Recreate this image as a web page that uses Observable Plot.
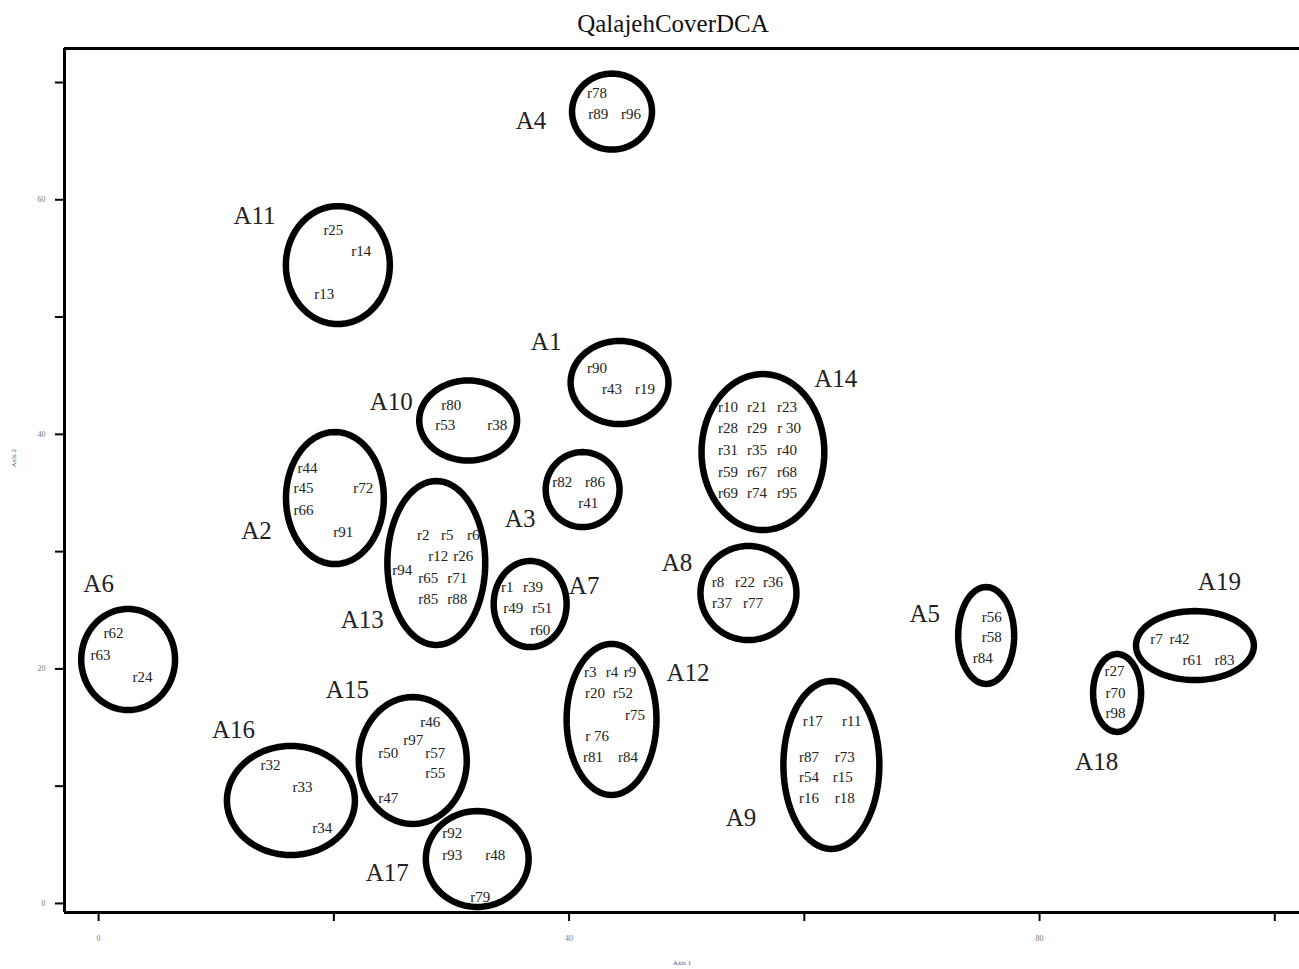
<!DOCTYPE html>
<html>
<head>
<meta charset="utf-8">
<script src="https://cdn.jsdelivr.net/npm/d3@7"></script>
<script src="https://cdn.jsdelivr.net/npm/@observablehq/plot@0.6"></script>
<style>
  html, body { margin: 0; padding: 0; background: #fff; }
  #title { position: relative; height: 46px; width: 1299px; overflow: hidden; }
  #title span { position: absolute; left: 0; width: 1346px; text-align: center; top: 10px;
    font-family: "Liberation Serif", "DejaVu Serif", serif; font-size: 25px; color: #111; }
  #chart svg { display: block; }
</style>
</head>
<body>
<div id="title"><span>QalajehCoverDCA</span></div>
<div id="chart"></div>
<script>
// Sample (relevé) labels and their DCA scores
const sampleNames = [
  "r78","r89","r96",
  "r25","r14","r13",
  "r90","r43","r19",
  "r80","r53","r38",
  "r10","r21","r23","r28","r29","r 30","r31","r35","r40","r59","r67","r68","r69","r74","r95",
  "r44","r45","r66","r72","r91",
  "r2","r5","r6","r12","r26","r94","r65","r71","r85","r88",
  "r82","r86","r41",
  "r1","r39","r49","r51","r60",
  "r8","r22","r36","r37","r77",
  "r3","r4","r9","r20","r52","r75","r 76","r81","r84",
  "r62","r63","r24",
  "r46","r97","r50","r57","r55","r47",
  "r32","r33","r34",
  "r92","r93","r48","r79",
  "r17","r11","r87","r73","r54","r15","r16","r18",
  "r56","r58","r84",
  "r27","r70","r98",
  "r7","r42","r61","r83"
];
const sampleX = [
  42.38, 42.47, 45.27,
  19.96, 22.34, 19.19,
  42.38, 43.65, 46.46,
  29.98, 29.47, 33.89,
  53.51, 55.97, 58.52, 53.51, 55.97, 58.70, 53.51, 55.97, 58.52, 53.51, 55.97, 58.52, 53.51, 55.97, 58.52,
  17.75, 17.41, 17.41, 22.51, 20.81,
  27.60, 29.64, 31.85, 28.88, 31.00, 25.82, 28.03, 30.49, 28.03, 30.49,
  39.41, 42.21, 41.62,
  34.74, 36.94, 35.25, 37.71, 37.54,
  52.66, 54.95, 57.33, 53.00, 55.63,
  41.79, 43.65, 45.18, 42.21, 44.59, 45.61, 42.38, 42.04, 45.01,
  1.27, 0.17, 3.74,
  28.20, 26.75, 24.63, 28.62, 28.62, 24.63,
  14.61, 17.33, 19.02,
  30.07, 30.07, 33.72, 32.44,
  60.72, 64.04, 60.39, 63.44, 60.39, 63.27, 60.39, 63.44,
  75.93, 75.93, 75.16,
  86.37, 86.46, 86.46,
  89.94, 91.89, 93.00, 95.72
];
const sampleY = [
  69.05, 67.26, 67.26,
  57.37, 55.58, 51.92,
  45.61, 43.82, 43.82,
  42.45, 40.75, 40.75,
  42.28, 42.28, 42.28, 40.49, 40.49, 40.49, 38.62, 38.62, 38.62, 36.74, 36.74, 36.74, 34.95, 34.95, 34.95,
  37.08, 35.38, 33.50, 35.38, 31.63,
  31.37, 31.37, 31.37, 29.58, 29.58, 28.39, 27.71, 27.71, 25.92, 25.92,
  35.89, 35.89, 34.10,
  26.94, 26.94, 25.15, 25.15, 23.27,
  27.37, 27.37, 27.37, 25.58, 25.58,
  19.69, 19.69, 19.69, 17.90, 17.90, 16.03, 14.24, 12.45, 12.45,
  23.02, 21.14, 19.27,
  15.43, 13.90, 12.79, 12.79, 11.08, 8.95,
  11.76, 9.89, 6.39,
  5.97, 4.09, 4.09, 0.51,
  15.52, 15.52, 12.45, 12.45, 10.74, 10.74, 8.95, 8.95,
  24.38, 22.68, 20.89,
  19.78, 17.90, 16.20,
  22.51, 22.51, 20.72, 20.72
];

// Groups (ellipses): centre and semi-axes in axis units, and label position
const groupNames = ["A4","A11","A1","A10","A14","A2","A13","A3","A7","A8","A12","A6","A15","A16","A17","A9","A5","A18","A19"];
const groupX  = [43.65, 20.34, 44.29, 31.42, 56.48, 20.09, 28.71, 41.15, 36.69, 55.25, 43.61, 2.51, 26.71, 16.35, 32.19, 62.30, 75.46, 86.59, 93.21];
const groupY  = [67.52, 54.43, 44.42, 41.18, 38.49, 34.57, 29.03, 35.29, 25.53, 26.47, 15.69, 20.80, 12.19, 8.78, 3.79, 11.81, 22.85, 17.95, 21.99];
const groupRx = [3.40, 4.42, 4.16, 4.16, 5.22, 4.16, 4.16, 3.14, 3.10, 4.08, 3.82, 3.99, 4.59, 5.44, 4.37, 4.08, 2.38, 2.04, 5.01];
const groupRy = [3.24, 5.03, 3.54, 3.41, 6.65, 5.63, 6.99, 3.20, 3.67, 4.01, 6.44, 4.31, 5.41, 4.65, 4.09, 7.16, 4.13, 3.32, 2.94];
const groupLabelX = [36.77, 13.25, 38.05, 24.88, 62.68, 13.42, 22.42, 35.84, 41.28, 49.17, 50.11, 0.00, 21.15, 11.47, 24.54, 54.61, 70.24, 84.85, 95.29];
const groupLabelY = [66.75, 58.65, 47.91, 42.80, 44.76, 31.80, 24.13, 32.74, 27.11, 28.99, 19.61, 27.28, 18.16, 14.83, 2.56, 7.25, 24.72, 12.02, 27.37];

// Axes
const xTicks = [0, 20, 40, 60, 80, 100];
const xTickLabels = [0, 40, 80];
const yTicks = [0, 10, 20, 30, 40, 50, 60, 70];
const yTickLabels = [0, 20, 40, 60];
const xDomain = [-2.9, 102.1];
const yDomain = [-0.77, 72.9];

const samples = sampleNames.map((n, i) => ({name: n, x: sampleX[i], y: sampleY[i]}));
const groups = groupNames.map((g, i) => ({name: g, lx: groupLabelX[i], ly: groupLabelY[i]}));
const ellipsePts = groupNames.flatMap((g, i) =>
  d3.range(0, 96).map(k => {
    const t = k / 96 * 2 * Math.PI;
    return {g, x: groupX[i] + groupRx[i] * Math.cos(t), y: groupY[i] + groupRy[i] * Math.sin(t)};
  })
);

const serif = "Liberation Serif, DejaVu Serif, serif";

const chart = Plot.plot({
  width: 1299,
  height: 923,
  marginLeft: 64,
  marginRight: 0,
  marginTop: 2,
  marginBottom: 57,
  style: {fontFamily: serif, background: "#fff"},
  x: {domain: xDomain},
  y: {domain: yDomain},
  marks: [
    // tick marks
    Plot.axisX({ticks: xTicks, tickFormat: () => "", tickSize: 9, label: null, stroke: "black", strokeWidth: 2}),
    Plot.axisY({ticks: yTicks, tickFormat: () => "", tickSize: 9, label: null, stroke: "black", strokeWidth: 2}),
    // tick labels
    Plot.axisX({ticks: xTickLabels, tickSize: 0, tickPadding: 23, fontSize: 8, label: null, fill: "#777"}),
    Plot.axisY({ticks: yTickLabels, tickSize: 0, tickPadding: 19, fontSize: 8, label: null, fill: "#777"}),
    // frame (left, top, bottom)
    Plot.ruleX([xDomain[0]], {stroke: "black", strokeWidth: 3}),
    Plot.ruleY(yDomain, {stroke: "black", strokeWidth: 3}),
    // group ellipses
    Plot.line(ellipsePts, {x: "x", y: "y", z: "g", stroke: "black", strokeWidth: 6.5, curve: "linear-closed"}),
    // sample labels
    Plot.text(samples, {x: "x", y: "y", text: "name", fontSize: 15, fill: "#222", fontFamily: serif}),
    // group labels
    Plot.text(groups, {x: "lx", y: "ly", text: "name", fontSize: 25, fill: "#222", fontFamily: serif}),
    // axis titles
    Plot.text(["Axis 1"], {frameAnchor: "bottom", dy: 52, fontSize: 7, fill: "#555"}),
    Plot.text(["Axis 2"], {frameAnchor: "left", dx: -51, dy: -13, rotate: -90, fontSize: 7, fill: "#555"})
  ]
});
document.getElementById("chart").appendChild(chart);
</script>
</body>
</html>
